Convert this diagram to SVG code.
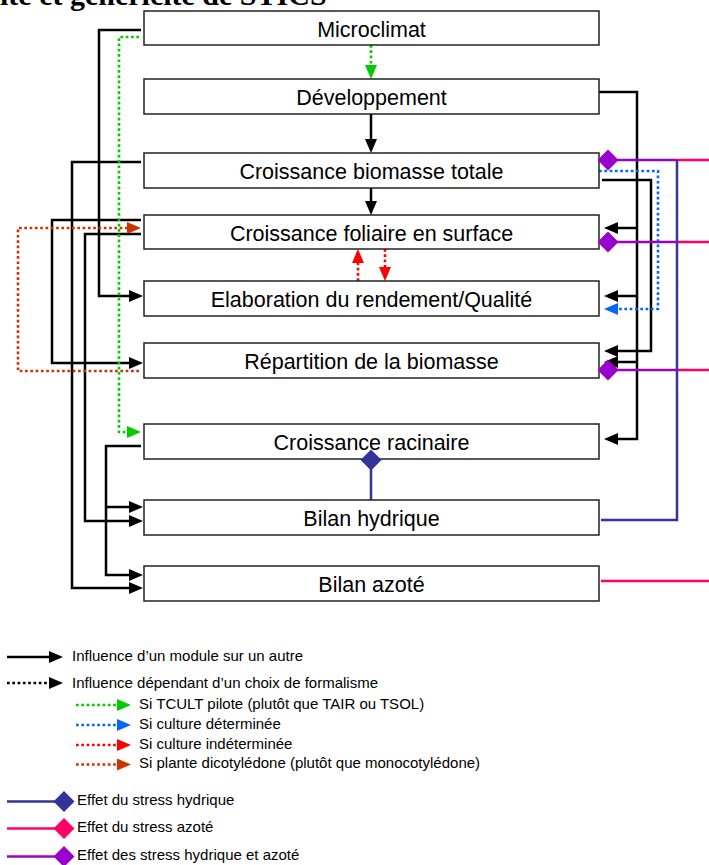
<svg xmlns="http://www.w3.org/2000/svg" width="709" height="865" viewBox="0 0 709 865">
<style>
.box{fill:#fff;stroke:#222;stroke-width:1.5}
.lbl{font-family:"Liberation Sans",Arial,sans-serif;font-size:21.5px;text-anchor:middle;fill:#000}
.leg{font-family:"Liberation Sans",Arial,sans-serif;font-size:15px;fill:#000}
.k{fill:none;stroke:#000;stroke-width:2.5}
.dot{fill:none;stroke-width:2.6;stroke-dasharray:2.7 2.6}
.g{stroke:#00cc00}.b{stroke:#0066ff}.r{stroke:#ff0000}.br{stroke:#cc3300}.kd{stroke:#000}
.pu{fill:none;stroke:#9900cc;stroke-width:2.5}
.pk{fill:none;stroke:#ff0066;stroke-width:2.5}
.nv{fill:none;stroke:#333399;stroke-width:2.5}
</style>
<defs>
<marker id="ak" markerUnits="userSpaceOnUse" markerWidth="14" markerHeight="12" refX="10" refY="6" orient="auto"><path d="M0,0 L14,6 L0,12 z" fill="#000"/></marker>
<marker id="ag" markerUnits="userSpaceOnUse" markerWidth="14" markerHeight="12" refX="10" refY="6" orient="auto"><path d="M0,0 L14,6 L0,12 z" fill="#00cc00"/></marker>
<marker id="ab" markerUnits="userSpaceOnUse" markerWidth="14" markerHeight="12" refX="10" refY="6" orient="auto"><path d="M0,0 L14,6 L0,12 z" fill="#0066ff"/></marker>
<marker id="ar" markerUnits="userSpaceOnUse" markerWidth="14" markerHeight="12" refX="10" refY="6" orient="auto"><path d="M0,0 L14,6 L0,12 z" fill="#ff0000"/></marker>
<marker id="abr" markerUnits="userSpaceOnUse" markerWidth="14" markerHeight="12" refX="10" refY="6" orient="auto"><path d="M0,0 L14,6 L0,12 z" fill="#cc3300"/></marker>
<polygon id="dia" points="0,-10.5 10.5,0 0,10.5 -10.5,0"/>
</defs>

<text x="0" y="4.5" font-family="'Liberation Serif','Times New Roman',serif" font-weight="bold" font-size="30">ité et généricité de STICS</text>

<g id="connectors">
  <!-- center -->
  <path class="dot g" d="M371,45 V75" marker-end="url(#ag)"/>
  <path class="k" d="M371,114 V149" marker-end="url(#ak)"/>
  <path class="k" d="M371,188 V211" marker-end="url(#ak)"/>
  <path class="dot r" d="M358,281 V253" marker-end="url(#ar)"/>
  <path class="dot r" d="M385,249 V277" marker-end="url(#ar)"/>
  <!-- left -->
  <path class="k" d="M141,30 H99 V296 H139" marker-end="url(#ak)"/>
  <path class="k" d="M141,162 H72 V588 H139" marker-end="url(#ak)"/>
  <path class="k" d="M141,220 H52 V363 H139" marker-end="url(#ak)"/>
  <path class="k" d="M141,234 H85 V521 H139" marker-end="url(#ak)"/>
  <path class="k" d="M141,446 H106 V575 H139" marker-end="url(#ak)"/>
  <path class="k" d="M106,507 H139" marker-end="url(#ak)"/>
  <path class="dot g" d="M139,37 H119 V432 H137" marker-end="url(#ag)"/>
  <path class="dot br" d="M139,371 H18 V228 H137" marker-end="url(#abr)"/>
  <!-- right -->
  <path class="k" d="M596,92 H637 V439 H608" marker-end="url(#ak)"/>
  <path class="k" d="M637,228 H608" marker-end="url(#ak)"/>
  <path class="k" d="M637,296 H608" marker-end="url(#ak)"/>
  <path class="k" d="M637,362 H608" marker-end="url(#ak)"/>
  <path class="k" d="M602,180 H651 V351 H608" marker-end="url(#ak)"/>
  <path class="dot b" d="M599,171 H658 V309 H608" marker-end="url(#ab)"/>
  <path class="pk" d="M677,160 H709 M677,242 H709 M677,370 H709"/>
  <path class="nv" d="M677,160 V520 H601"/>
  <path class="pu" d="M608,160 H677 M608,242 H677 M608,370 H677"/>
  <path class="pk" d="M601,581 H709"/>
  <path class="nv" d="M371,500 V460"/>
</g>

<g id="n-microclimat"><rect class="box" x="144" y="11" width="455" height="34"/><text class="lbl" x="371.5" y="37">Microclimat</text></g>
<g id="n-developpement"><rect class="box" x="144" y="79" width="455" height="35"/><text class="lbl" x="371.5" y="105">Développement</text></g>
<g id="n-biomasse"><rect class="box" x="144" y="153" width="455" height="35"/><text class="lbl" x="371.5" y="179">Croissance biomasse totale</text></g>
<g id="n-foliaire"><rect class="box" x="144" y="215" width="455" height="34"/><text class="lbl" x="371.5" y="241">Croissance foliaire en surface</text></g>
<g id="n-rendement"><rect class="box" x="144" y="281" width="455" height="35"/><text class="lbl" x="371.5" y="307">Elaboration du rendement/Qualité</text></g>
<g id="n-repartition"><rect class="box" x="144" y="343" width="455" height="35"/><text class="lbl" x="371.5" y="369">Répartition de la biomasse</text></g>
<g id="n-racinaire"><rect class="box" x="144" y="424" width="455" height="35"/><text class="lbl" x="371.5" y="450">Croissance racinaire</text></g>
<g id="n-hydrique"><rect class="box" x="144" y="500" width="455" height="35"/><text class="lbl" x="371.5" y="526">Bilan hydrique</text></g>
<g id="n-azote"><rect class="box" x="144" y="566" width="455" height="35"/><text class="lbl" x="371.5" y="592">Bilan azoté</text></g>

<g id="diamonds">
  <use href="#dia" x="608" y="160" fill="#9900cc"/>
  <use href="#dia" x="608" y="242" fill="#9900cc"/>
  <use href="#dia" x="608" y="370" fill="#9900cc"/>
  <use href="#dia" x="371" y="460" fill="#333399"/>
</g>

<g id="legend">
  <path class="k" d="M7,657 H59" marker-end="url(#ak)"/>
  <text class="leg" x="72" y="661">Influence d’un module sur un autre</text>
  <path class="dot kd" d="M7,683 H59" marker-end="url(#ak)"/>
  <text class="leg" x="72" y="688">Influence dépendant d’un choix de formalisme</text>
  <path class="dot g" d="M76,705 H127" marker-end="url(#ag)"/>
  <text class="leg" x="139" y="708.5">Si TCULT pilote (plutôt que TAIR ou TSOL)</text>
  <path class="dot b" d="M76,725 H127" marker-end="url(#ab)"/>
  <text class="leg" x="139" y="728.5">Si culture déterminée</text>
  <path class="dot r" d="M76,745 H127" marker-end="url(#ar)"/>
  <text class="leg" x="139" y="748.5">Si culture indéterminée</text>
  <path class="dot br" d="M76,764.5 H127" marker-end="url(#abr)"/>
  <text class="leg" x="139" y="768">Si plante dicotylédone (plutôt que monocotylédone)</text>
  <path class="nv" d="M7,801.5 H64"/>
  <use href="#dia" x="64" y="801.5" fill="#333399" transform="translate(0,0)"/>
  <text class="leg" x="77" y="805">Effet du stress hydrique</text>
  <path class="pk" d="M7,828.5 H64"/>
  <use href="#dia" x="64" y="828.5" fill="#ff0066"/>
  <text class="leg" x="77" y="832">Effet du stress azoté</text>
  <path class="pu" d="M7,856.5 H64"/>
  <use href="#dia" x="64" y="856.5" fill="#9900cc"/>
  <text class="leg" x="77" y="860">Effet des stress hydrique et azoté</text>
</g>
</svg>
